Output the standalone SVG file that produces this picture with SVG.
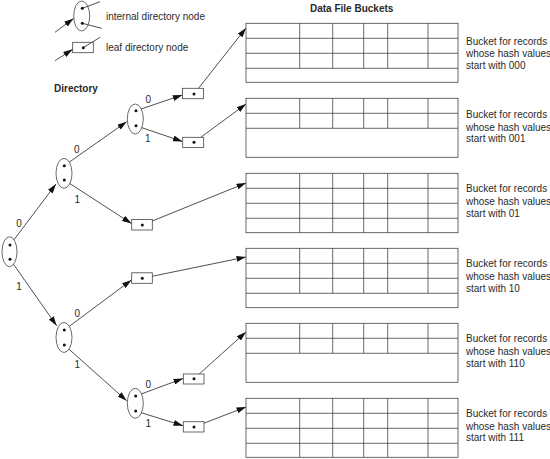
<svg xmlns="http://www.w3.org/2000/svg" width="550" height="459" viewBox="0 0 550 459">
<style>
text{font-family:"Liberation Sans",Arial,sans-serif;font-size:10px;fill:#2a2a2a}
.b{font-weight:bold}
.n{fill:#fff;stroke:#444;stroke-width:0.8}
.d{fill:#111}
.e{stroke:#222;stroke-width:0.8;fill:none}
.a{marker-end:url(#ah)}
.g{fill:#fff;stroke:#444;stroke-width:0.8}
.gl{stroke:#444;stroke-width:0.8;fill:none}
</style>
<defs>
<marker id="ah" markerUnits="userSpaceOnUse" markerWidth="10" markerHeight="6" refX="9.5" refY="3" orient="auto">
<path d="M0,0 L9.5,3 L0,6 z" fill="#111"/>
</marker>
</defs>
<rect width="550" height="459" fill="#fff"/>

<g id="legend">
<line class="e" x1="82.3" y1="8.3" x2="100" y2="1.7"/>
<line class="e" x1="82.3" y1="23.3" x2="101.7" y2="28.3"/>
<ellipse class="n" cx="81.7" cy="16" rx="8" ry="15" style="fill:none"/>
<circle class="d" cx="82.3" cy="8.3" r="1.5"/>
<circle class="d" cx="82.3" cy="23.3" r="1.5"/>
<line class="e a" x1="55" y1="32.3" x2="73.5" y2="18.5"/>
<text x="106" y="19.5">internal directory node</text>
<line class="e" x1="83.3" y1="47.7" x2="100" y2="37.3"/>
<rect class="n" x="72.7" y="42.3" width="20.6" height="10.4" style="fill:none"/>
<circle class="d" cx="83.3" cy="47.7" r="1.5"/>
<line class="e a" x1="55" y1="60.7" x2="72.7" y2="49.3"/>
<text x="106" y="51">leaf directory node</text>
</g>

<text class="b" x="351.7" y="12" text-anchor="middle">Data File Buckets</text>
<text class="b" x="54" y="92">Directory</text>

<g id="connectors">
<line class="e a" x1="10" y1="245" x2="56" y2="184"/>
<line class="e a" x1="10" y1="259.3" x2="56.7" y2="325.7"/>
<line class="e a" x1="64.3" y1="165.7" x2="126.7" y2="121.7"/>
<line class="e a" x1="64.3" y1="180" x2="131.5" y2="223.5"/>
<line class="e a" x1="136" y1="110.7" x2="182.3" y2="95"/>
<line class="e a" x1="136" y1="125.7" x2="182.5" y2="141.5"/>
<line class="e a" x1="64.3" y1="330" x2="131.5" y2="280"/>
<line class="e a" x1="64.3" y1="345" x2="126.7" y2="400.7"/>
<line class="e a" x1="135.7" y1="396" x2="183" y2="378.5"/>
<line class="e a" x1="135.7" y1="411" x2="183" y2="425.7"/>
<line class="e a" x1="194" y1="94" x2="246" y2="28"/>
<line class="e a" x1="194" y1="142.3" x2="246" y2="104"/>
<line class="e a" x1="142.3" y1="225" x2="246" y2="183"/>
<line class="e a" x1="142.3" y1="278.3" x2="246" y2="257"/>
<line class="e a" x1="194" y1="378.7" x2="246" y2="332"/>
<line class="e a" x1="194" y1="427" x2="246" y2="407"/>
</g>

<g id="node-root">
<ellipse class="n" cx="9.5" cy="251.7" rx="7.5" ry="15"/>
<circle class="d" cx="10" cy="245" r="1.5"/>
<circle class="d" cx="10" cy="259.3" r="1.5"/>
<text x="19" y="227" text-anchor="middle">0</text>
<text x="19" y="289.5" text-anchor="middle">1</text>
</g>
<g id="node-0">
<ellipse class="n" cx="64" cy="173.3" rx="8" ry="15"/>
<circle class="d" cx="64.3" cy="165.7" r="1.5"/>
<circle class="d" cx="64.3" cy="180" r="1.5"/>
<text x="76.7" y="152.5" text-anchor="middle">0</text>
<text x="77.3" y="203" text-anchor="middle">1</text>
</g>
<g id="node-00">
<ellipse class="n" cx="135.3" cy="119" rx="8" ry="15"/>
<circle class="d" cx="136" cy="110.7" r="1.5"/>
<circle class="d" cx="136" cy="125.7" r="1.5"/>
<text x="148.3" y="103" text-anchor="middle">0</text>
<text x="147.7" y="141.5" text-anchor="middle">1</text>
</g>
<g id="node-1">
<ellipse class="n" cx="64" cy="337.5" rx="8" ry="15"/>
<circle class="d" cx="64.3" cy="330" r="1.5"/>
<circle class="d" cx="64.3" cy="345" r="1.5"/>
<text x="77.3" y="317" text-anchor="middle">0</text>
<text x="77.3" y="368" text-anchor="middle">1</text>
</g>
<g id="node-11">
<ellipse class="n" cx="135.3" cy="403.3" rx="8" ry="15"/>
<circle class="d" cx="135.7" cy="396" r="1.5"/>
<circle class="d" cx="135.7" cy="411" r="1.5"/>
<text x="148.3" y="388" text-anchor="middle">0</text>
<text x="148.3" y="426.5" text-anchor="middle">1</text>
</g>

<g id="leaf-000"><rect class="n" x="182.5" y="88.3" width="21" height="10.4"/><circle class="d" cx="194" cy="94" r="1.5"/></g>
<g id="leaf-001"><rect class="n" x="182.7" y="137.3" width="21" height="10.2"/><circle class="d" cx="194" cy="142.3" r="1.5"/></g>
<g id="leaf-01"><rect class="n" x="131.7" y="219.5" width="20.6" height="10.5"/><circle class="d" cx="142.3" cy="225" r="1.5"/></g>
<g id="leaf-10"><rect class="n" x="131.7" y="272.8" width="20.6" height="10.5"/><circle class="d" cx="142.3" cy="278.3" r="1.5"/></g>
<g id="leaf-110"><rect class="n" x="183.3" y="374" width="20.7" height="10"/><circle class="d" cx="194" cy="378.7" r="1.5"/></g>
<g id="leaf-111"><rect class="n" x="183.3" y="421.7" width="20.7" height="10.3"/><circle class="d" cx="194" cy="427" r="1.5"/></g>

<g id="bucket-000">
<rect class="g" x="246" y="23.3" width="212" height="59"/>
<path class="gl" d="M246,38.3H458M246,53.3H458M246,68.3H458M299.7,23.3V68.3M332.7,23.3V68.3M363.7,23.3V68.3M387.7,23.3V68.3M428,23.3V68.3"/>
<text x="466" y="45">Bucket for records</text>
<text x="466" y="57">whose hash values</text>
<text x="466" y="68.5">start with 000</text>
</g>
<g id="bucket-001">
<rect class="g" x="246" y="98.3" width="212" height="59"/>
<path class="gl" d="M246,113.3H458M246,128.3H458M299.7,98.3V128.3M332.7,98.3V128.3M363.7,98.3V128.3M387.7,98.3V128.3M428,98.3V128.3"/>
<text x="466" y="118">Bucket for records</text>
<text x="466" y="131">whose hash values</text>
<text x="466" y="142">start with 001</text>
</g>
<g id="bucket-01">
<rect class="g" x="246" y="173.3" width="212" height="59.4"/>
<path class="gl" d="M246,188.3H458M246,203.3H458M246,218.3H458M299.7,173.3V232.7M332.7,173.3V232.7M363.7,173.3V232.7M387.7,173.3V232.7M428,173.3V232.7"/>
<text x="466" y="192">Bucket for records</text>
<text x="466" y="205">whose hash values</text>
<text x="466" y="217">start with 01</text>
</g>
<g id="bucket-10">
<rect class="g" x="246" y="248.3" width="212" height="59.4"/>
<path class="gl" d="M246,263.3H458M246,278.3H458M246,293.3H458M299.7,248.3V293.3M332.7,248.3V293.3M363.7,248.3V293.3M387.7,248.3V293.3M428,248.3V293.3"/>
<text x="466" y="267">Bucket for records</text>
<text x="466" y="280">whose hash values</text>
<text x="466" y="292">start with 10</text>
</g>
<g id="bucket-110">
<rect class="g" x="246" y="323.3" width="212" height="59"/>
<path class="gl" d="M246,338.3H458M246,353.3H458M299.7,323.3V353.3M332.7,323.3V353.3M363.7,323.3V353.3M387.7,323.3V353.3M428,323.3V353.3"/>
<text x="466" y="342">Bucket for records</text>
<text x="466" y="355">whose hash values</text>
<text x="466" y="367">start with 110</text>
</g>
<g id="bucket-111">
<rect class="g" x="246" y="398.3" width="212" height="59"/>
<path class="gl" d="M246,413.3H458M246,428.3H458M246,443.3H458M299.7,398.3V457.3M332.7,398.3V457.3M363.7,398.3V457.3M387.7,398.3V457.3M428,398.3V457.3"/>
<text x="466" y="417">Bucket for records</text>
<text x="466" y="430">whose hash values</text>
<text x="466" y="441">start with 111</text>
</g>
</svg>
